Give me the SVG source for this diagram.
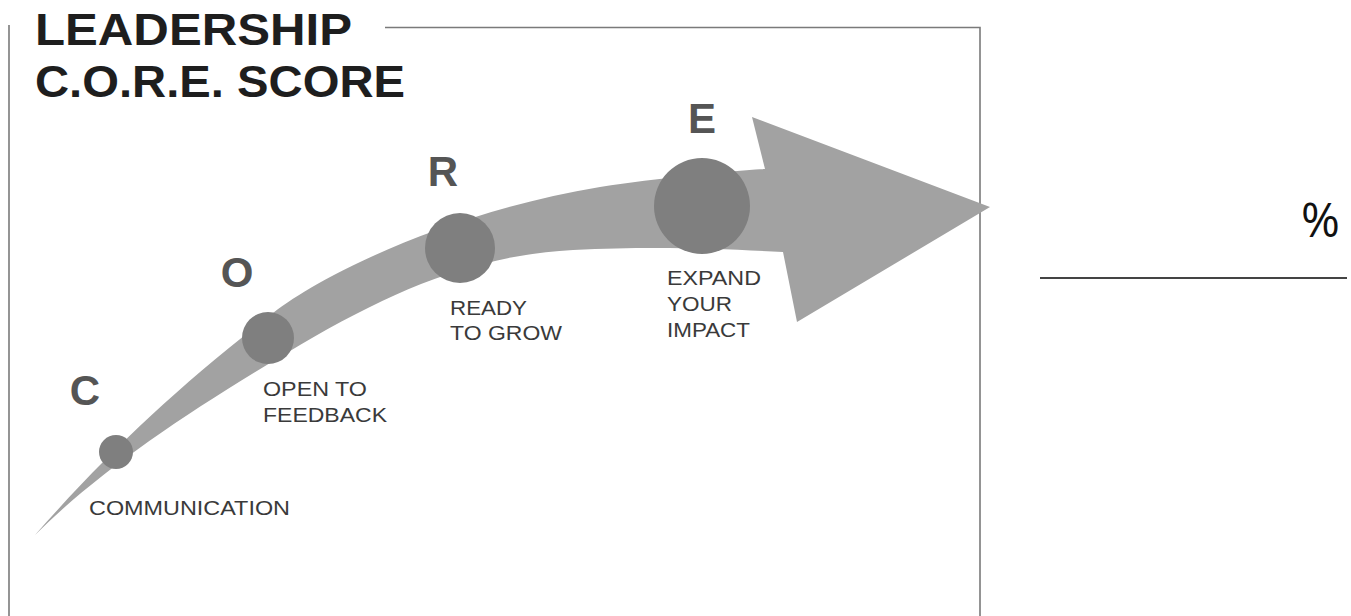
<svg xmlns="http://www.w3.org/2000/svg" width="1351" height="616" viewBox="0 0 1351 616">
<style>
.frame{fill:none;stroke:#7a7a7a;stroke-width:1.6}
.title{font-family:"Liberation Sans",Arial,sans-serif;font-weight:bold;font-size:44px;fill:#1e1e1e}
.letter{font-family:"Liberation Sans",Arial,sans-serif;font-weight:bold;font-size:42px;fill:#555555;text-anchor:middle}
.label{font-family:"Liberation Sans",Arial,sans-serif;font-size:21px;fill:#3a3a3a}
.band{fill:#a2a2a2}
.dot{fill:#7f7f7f}
</style>
<rect width="1351" height="616" fill="#ffffff"/>
<g id="frame">
<line class="frame" x1="9" y1="25" x2="9" y2="616"/>
<polyline class="frame" points="385,27.5 980,27.5 980,616"/>
</g>
<g id="title">
<text class="title" x="35" y="45" textLength="317" lengthAdjust="spacingAndGlyphs">LEADERSHIP</text>
<text class="title" x="35" y="97" textLength="370" lengthAdjust="spacingAndGlyphs">C.O.R.E. SCORE</text>
</g>
<g id="connectors">
<path class="band" d="M35,535 C110,450 180,385 273,313 C330,269 460,210 600,187 C660,178 720,172 765,169 L752,117 L990,207 L797,322 L783,252 C720,249 660,246 573,250 C480,255 400,286 300,345 C190,410 100,470 35,535 Z"/>
</g>
<g id="node-c">
<circle class="dot" cx="116" cy="452" r="17"/>
<text class="letter" x="85" y="405">C</text>
<text class="label" x="89" y="515" textLength="201" lengthAdjust="spacingAndGlyphs">COMMUNICATION</text>
</g>
<g id="node-o">
<circle class="dot" cx="268" cy="338" r="26"/>
<text class="letter" x="237" y="287">O</text>
<text class="label" x="263" y="396" textLength="104" lengthAdjust="spacingAndGlyphs">OPEN TO</text>
<text class="label" x="263" y="422" textLength="124" lengthAdjust="spacingAndGlyphs">FEEDBACK</text>
</g>
<g id="node-r">
<circle class="dot" cx="460" cy="248" r="35"/>
<text class="letter" x="443" y="186">R</text>
<text class="label" x="450" y="315" textLength="77" lengthAdjust="spacingAndGlyphs">READY</text>
<text class="label" x="450" y="340" textLength="112" lengthAdjust="spacingAndGlyphs">TO GROW</text>
</g>
<g id="node-e">
<circle class="dot" cx="702" cy="206" r="48"/>
<text class="letter" x="702" y="133">E</text>
<text class="label" x="667" y="285" textLength="94" lengthAdjust="spacingAndGlyphs">EXPAND</text>
<text class="label" x="667" y="311" textLength="65" lengthAdjust="spacingAndGlyphs">YOUR</text>
<text class="label" x="667" y="337" textLength="83" lengthAdjust="spacingAndGlyphs">IMPACT</text>
</g>
<g id="score">
<text x="1301" y="237" font-family="'Open Sans',sans-serif" font-size="47" fill="#111111">%</text>
<line x1="1040" y1="278" x2="1347" y2="278" stroke="#444444" stroke-width="2"/>
</g>
</svg>
